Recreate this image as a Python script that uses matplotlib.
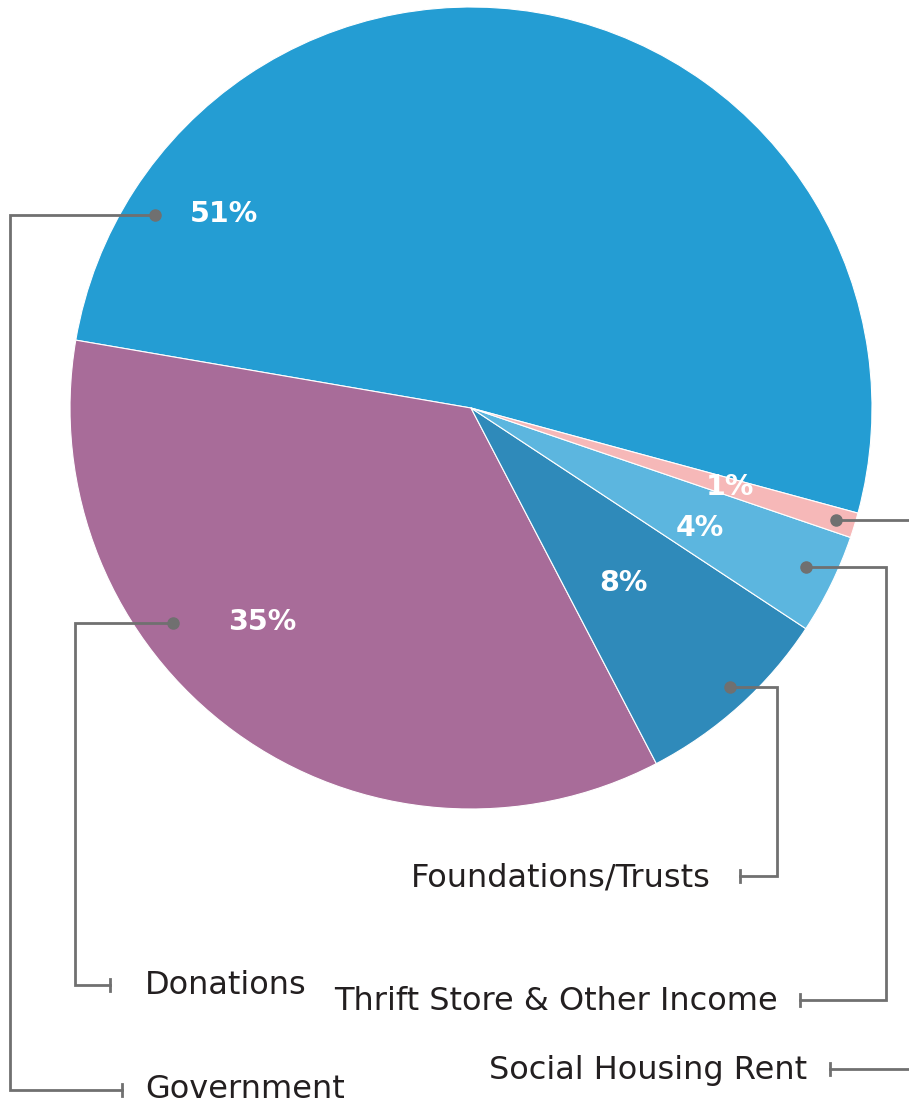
"""Funding sources pie chart with elbow leader lines."""

import matplotlib.pyplot as plt

W, H = 909, 1108

categories = ["Government", "Donations", "Foundations/Trusts",
              "Thrift Store & Other Income", "Social Housing Rent"]
shares = [51, 35, 8, 4, 1]
pct_labels = ["51%", "35%", "8%", "4%", "1%"]
colors = ["#249dd3", "#a86c99", "#2f8aba", "#5cb6df", "#f6b8b8"]

# layout, in image pixels (y measured from top)
pct_pos = [(224, 214), (262, 622), (623, 583), (700, 528), (730, 487)]
# leader: dot point, route points, label anchor, label alignment
leaders = [
    ((155, 215), [(10, 215), (10, 1090), (122, 1090)], (145, 1090), "left"),
    ((173, 623), [(75, 623), (75, 985), (110, 985)], (145, 985), "left"),
    ((730, 687), [(777, 687), (777, 876), (740, 876)], (711, 878), "right"),
    ((806, 567), [(886, 567), (886, 1000), (800, 1000)], (778, 1001), "right"),
    ((836, 520), [(912, 520), (912, 1069), (830, 1069)], (807, 1070), "right"),
]

LINE = "#707070"
TEXT = "#231f20"


def fy(y):
    return H - y


fig = plt.figure(figsize=(W / 100, H / 100), dpi=100)
ax = fig.add_axes([0, 0, 1, 1])
ax.pie(shares, colors=colors, startangle=-15.2, counterclock=True,
       center=(471, fy(408)), radius=401,
       wedgeprops=dict(edgecolor="white", linewidth=0.8))

for text, (x, y) in zip(pct_labels, pct_pos):
    ax.text(x, fy(y), text, color="white", fontsize=20.5, fontweight="bold",
            family="DejaVu Sans", ha="center", va="center")

for name, (dot, route, lab, align) in zip(categories, leaders):
    xs = [dot[0]] + [p[0] for p in route]
    ys = [fy(dot[1])] + [fy(p[1]) for p in route]
    ax.plot(xs, ys, color=LINE, linewidth=2, solid_joinstyle="miter", clip_on=False)
    ax.plot(dot[0], fy(dot[1]), "o", color=LINE, markersize=8)
    tx, ty = route[-1]
    ax.plot([tx, tx], [fy(ty) - 6, fy(ty) + 6], color=LINE, linewidth=2)
    ax.text(lab[0], fy(lab[1]), name, color=TEXT, fontsize=23, family="DejaVu Sans",
            ha=align, va="center")

ax.set_xlim(0, W)
ax.set_ylim(0, H)
ax.set_aspect("equal")
ax.axis("off")
fig.savefig("out.png", dpi=100, facecolor="white")
